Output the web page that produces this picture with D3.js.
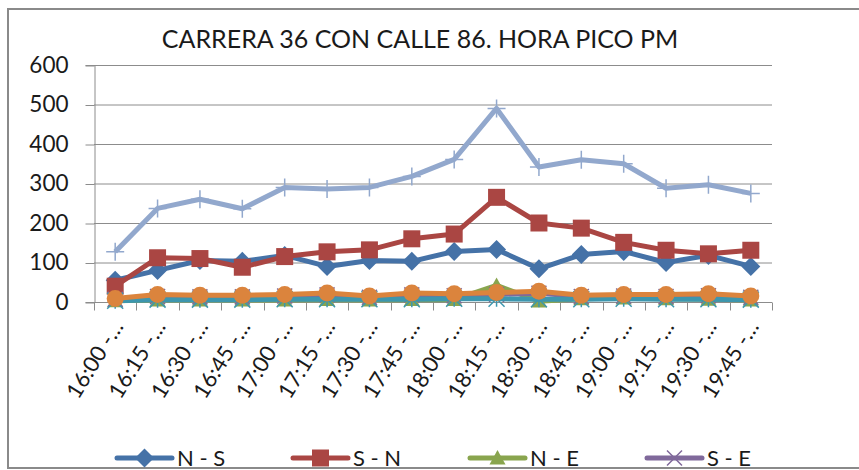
<!DOCTYPE html>
<html>
<head>
<meta charset="utf-8">
<script src="https://cdn.jsdelivr.net/npm/d3@7"></script>
<style>
  html, body { margin: 0; padding: 0; background: #fff; }
  svg { display: block; }
  text { font-family: Lato, "Open Sans", sans-serif; fill: #1a1a1a; }
</style>
</head>
<body>
<svg id="chart" width="859" height="470"></svg>
<script>
// Time intervals (labels are shown truncated, as on the axis)
const categories = ["16:00 -…", "16:15 -…", "16:30 -…", "16:45 -…", "17:00 -…", "17:15 -…",
  "17:30 -…", "17:45 -…", "18:00 -…", "18:15 -…", "18:30 -…", "18:45 -…",
  "19:00 -…", "19:15 -…", "19:30 -…", "19:45 -…"];

// Vehicle counts per movement
const nS    = [55, 80, 105, 103, 118, 90, 105, 103, 128, 133, 84, 120, 128, 100, 118, 90];
const sN    = [40, 112, 110, 88, 115, 127, 132, 160, 172, 265, 200, 187, 151, 131, 122, 131];
const nE    = [3, 5, 5, 5, 5, 6, 5, 6, 6, 42, 2, 8, 10, 8, 7, 5];
const sE    = [7, 14, 13, 13, 15, 18, 12, 18, 16, 19, 22, 14, 15, 14, 16, 12];
const sO    = [3, 6, 6, 6, 7, 7, 7, 7, 8, 8, 7, 7, 8, 7, 7, 6];
const nO    = [9, 19, 17, 17, 19, 23, 15, 23, 21, 24, 27, 17, 19, 19, 21, 15];
const total = [127, 237, 260, 236, 290, 286, 290, 318, 361, 490, 342, 360, 350, 288, 297, 275];

const yTicks = [0, 100, 200, 300, 400, 500, 600];
const titleText = "CARRERA 36 CON CALLE 86. HORA PICO PM";

const series = [
  { name: "N - S", values: nS,    color: "#4572A7", marker: "diamond" },
  { name: "S - N", values: sN,    color: "#AA4643", marker: "square" },
  { name: "N - E", values: nE,    color: "#89A54E", marker: "triangle" },
  { name: "S - E", values: sE,    color: "#80699B", marker: "cross" },
  { name: "S - O", values: sO,    color: "#3D96AE", marker: "star" },
  { name: "N - O", values: nO,    color: "#DB843D", marker: "circle" },
  { name: "TOTAL", values: total, color: "#92A8CD", marker: "plus" }
];

const svg = d3.select("#chart");

// outer chart frame
svg.append("rect")
  .attr("x", 8).attr("y", 9).attr("width", 900).attr("height", 459)
  .attr("fill", "#fff").attr("stroke", "#8a8a8a").attr("stroke-width", 2);

const plot = { left: 94, right: 772, top: 65, bottom: 302 };

const x = d3.scaleBand().domain(categories).range([plot.left, plot.right]);
const cx = d => x(d) + x.bandwidth() / 2;
const y = d3.scaleLinear().domain([0, 600]).range([plot.bottom, plot.top]);

// title
svg.append("text")
  .attr("x", 420).attr("y", 48)
  .attr("text-anchor", "middle")
  .attr("font-size", 25)
  .text(titleText);

// horizontal gridlines
svg.append("g")
  .selectAll("line")
  .data(yTicks.filter(t => t > 0))
  .join("line")
  .attr("x1", plot.left).attr("x2", plot.right)
  .attr("y1", d => y(d) + 0.5).attr("y2", d => y(d) + 0.5)
  .attr("stroke", "#8c8c8c").attr("stroke-width", 1);

// y axis
const yAxis = svg.append("g")
  .attr("transform", `translate(${plot.left + 0.5},0)`)
  .call(d3.axisLeft(y).tickValues(yTicks).tickSize(9).tickPadding(17));
yAxis.select(".domain").attr("stroke", "#8c8c8c");
yAxis.selectAll(".tick line").attr("stroke", "#8c8c8c").attr("transform", "translate(0,0.5)");
yAxis.selectAll(".tick text")
  .attr("font-size", 22.5).attr("font-family", "Lato, 'Open Sans', sans-serif").attr("fill", "#1a1a1a");

// x axis with ticks between categories
const xAxisG = svg.append("g").attr("transform", `translate(0,${plot.bottom + 0.5})`);
xAxisG.append("line")
  .attr("x1", plot.left).attr("x2", plot.right)
  .attr("stroke", "#8c8c8c");
const bounds = categories.map(c => x(c)).concat([plot.right]);
xAxisG.selectAll("line.tk")
  .data(bounds)
  .join("line").attr("class", "tk")
  .attr("x1", d => Math.round(d) + 0.5).attr("x2", d => Math.round(d) + 0.5)
  .attr("y1", 0).attr("y2", 8)
  .attr("stroke", "#8c8c8c");
xAxisG.selectAll("text")
  .data(categories)
  .join("text")
  .attr("text-anchor", "end")
  .attr("font-size", 22)
  .attr("transform", d => `translate(${cx(d) + 9},${24}) rotate(-58)`)
  .text(d => d);

// marker shapes
function markerPath(type) {
  switch (type) {
    case "diamond": { const r = 9.5; return `M0,${-r}L${r},0L0,${r}L${-r},0Z`; }
    case "square": { const r = 8.5; return `M${-r},${-r}H${r}V${r}H${-r}Z`; }
    case "triangle": { const r = 8; return `M0,${-r}L${r},${r * 0.8}L${-r},${r * 0.8}Z`; }
    case "circle": { const r = 8.5; return `M${r},0A${r},${r} 0 1,1 ${-r},0A${r},${r} 0 1,1 ${r},0Z`; }
    case "cross": { const r = 7.5; return `M${-r},${-r}L${r},${r}M${r},${-r}L${-r},${r}`; }
    case "plus": { const r = 9; return `M${-r},0H${r}M0,${-r}V${r}`; }
    case "star": { const r = 8; return `M${-r},${-r}L${r},${r}M${r},${-r}L${-r},${r}M0,${-r}V${r}`; }
  }
}
const stroked = new Set(["cross", "plus", "star"]);

const line = d3.line().x((d, i) => cx(categories[i])).y(d => y(d));

const seriesG = svg.append("g");
series.forEach(s => {
  const g = seriesG.append("g");
  g.append("path")
    .datum(s.values)
    .attr("d", line)
    .attr("fill", "none")
    .attr("stroke", s.color)
    .attr("stroke-width", 5)
    .attr("stroke-linejoin", "round");
  g.selectAll("path.mk")
    .data(s.values)
    .join("path").attr("class", "mk")
    .attr("transform", (d, i) => `translate(${cx(categories[i])},${y(d)})`)
    .attr("d", markerPath(s.marker))
    .attr("fill", stroked.has(s.marker) ? "none" : s.color)
    .attr("stroke", s.color)
    .attr("stroke-width", stroked.has(s.marker) ? 1.5 : 0);
});

// legend (first row)
const legendX = [117, 293, 470, 647];
const legend = svg.append("g");
series.slice(0, 4).forEach((s, i) => {
  const lx = legendX[i], ly = 458;
  legend.append("line")
    .attr("x1", lx).attr("x2", lx + 55).attr("y1", ly).attr("y2", ly)
    .attr("stroke", s.color).attr("stroke-width", 5).attr("stroke-linecap", "round");
  legend.append("path")
    .attr("transform", `translate(${lx + 27.5},${ly})`)
    .attr("d", markerPath(s.marker))
    .attr("fill", stroked.has(s.marker) ? "none" : s.color)
    .attr("stroke", s.color)
    .attr("stroke-width", stroked.has(s.marker) ? 1.5 : 0);
  legend.append("text")
    .attr("x", lx + 60).attr("y", ly + 7.5)
    .attr("font-size", 22)
    .text(s.name);
});
</script>
</body>
</html>
